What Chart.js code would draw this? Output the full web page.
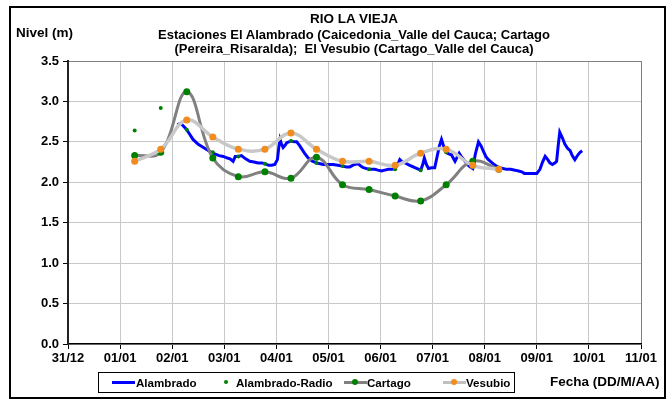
<!DOCTYPE html>
<html>
<head>
<meta charset="utf-8">
<script src="https://cdn.jsdelivr.net/npm/chart.js@4.4.0/dist/chart.umd.min.js"></script>
<style>
  body { margin: 0; background: #fff; font-family: "Liberation Sans", Arial, sans-serif; }
  #wrap { position: relative; width: 668px; height: 401px; overflow: hidden; background: #fff; }
  #frame { position: absolute; left: 9px; top: 6px; width: 657px; height: 393px; border: 2px solid #000; box-sizing: border-box; }
  canvas { position: absolute; left: 0; top: 0; }
  .txt { position: absolute; font-weight: bold; color: #000; white-space: nowrap; line-height: 14px; }
  .center { text-align: center; left: 54px; width: 600px; }
  #legend { position: absolute; left: 98px; top: 372px; width: 417px; height: 21px; border: 1px solid #000; box-sizing: border-box; }
  .sw { position: absolute; height: 3px; top: 8px; }
  .dot { position: absolute; border-radius: 50%; }
  .lt { position: absolute; top: 3px; font-size: 11.6px; font-weight: bold; line-height: 14px; }
</style>
</head>
<body>
<div id="wrap">
  <div id="frame"></div>
  <canvas id="chart" width="668" height="401"></canvas>
  <div class="txt center" style="top: 12px; font-size: 13.5px;">RIO LA VIEJA</div>
  <div class="txt center" style="top: 28px; font-size: 13px;">Estaciones El Alambrado (Caicedonia_Valle del Cauca; Cartago</div>
  <div class="txt center" style="top: 42px; font-size: 13px;">(Pereira_Risaralda);&nbsp; El Vesubio (Cartago_Valle del Cauca)</div>
  <div class="txt" style="left: 16px; top: 26px; font-size: 13.5px;">Nivel (m)</div>
  <div class="txt" style="left: 550px; top: 375px; font-size: 13.5px;">Fecha (DD/M/AA)</div>
  <div id="legend">
    <div class="sw" style="left: 13px; width: 23px; background: #0000ff;"></div>
    <div class="lt" style="left: 37px;">Alambrado</div>
    <div class="dot" style="left: 125px; top: 7px; width: 4px; height: 4px; background: #008000;"></div>
    <div class="lt" style="left: 137px;">Alambrado-Radio</div>
    <div class="sw" style="left: 245px; width: 23px; background: #808080;"></div>
    <div class="dot" style="left: 253px; top: 6px; width: 6px; height: 6px; background: #008000;"></div>
    <div class="lt" style="left: 268px;">Cartago</div>
    <div class="sw" style="left: 344px; width: 23px; background: #c0c0c0;"></div>
    <div class="dot" style="left: 352px; top: 6px; width: 6px; height: 6px; background: #f28c1e;"></div>
    <div class="lt" style="left: 367px;">Vesubio</div>
  </div>
</div>
<script>
// eje x en meses desde 31/12
const monthLabels = ['31/12', '01/01', '02/01', '03/01', '04/01', '05/01', '06/01', '07/01', '08/01', '09/01', '10/01', '11/01'];

// fechas quincenales (Cartago, Vesubio, Alambrado-Radio)
const fechasQ = [1.28, 1.78, 2.28, 2.78, 3.27, 3.78, 4.28, 4.77, 5.27, 5.78, 6.28, 6.77, 7.26, 7.77, 8.27];
const cartago = [2.33, 2.37, 3.12, 2.30, 2.07, 2.13, 2.05, 2.31, 1.97, 1.91, 1.83, 1.77, 1.97, 2.26, 2.16];
const vesubio = [2.26, 2.41, 2.77, 2.56, 2.41, 2.41, 2.61, 2.41, 2.26, 2.26, 2.21, 2.36, 2.41, 2.21, 2.16];
const radio = [2.64, 2.92, 2.65, 2.37, 2.32, 2.23, 2.51, 2.24, 2.20, 2.16, 2.16, 2.15, 2.37, 2.19, 2.18];

// Alambrado (serie continua)
const alambradoFechas = [
  2.10, 2.16, 2.21, 2.28, 2.33, 2.40, 2.50, 2.60, 2.70, 2.78, 2.90, 2.98, 3.06, 3.11, 3.17, 3.21,
  3.27, 3.33, 3.41, 3.49, 3.57, 3.65, 3.72, 3.78, 3.85, 3.91, 3.97, 4.02, 4.05, 4.07, 4.10, 4.13,
  4.17, 4.20, 4.28, 4.35, 4.39, 4.44, 4.49, 4.55, 4.61, 4.69, 4.77, 4.84, 4.90, 5.00, 5.09, 5.18,
  5.27, 5.35, 5.41, 5.50, 5.57, 5.62, 5.67, 5.78, 5.89, 5.95, 6.02, 6.08, 6.15, 6.22, 6.28, 6.33,
  6.37, 6.42, 6.47, 6.56, 6.66, 6.77, 6.81, 6.84, 6.88, 6.92, 6.98, 7.04, 7.08, 7.13, 7.17, 7.21,
  7.26, 7.31, 7.36, 7.43, 7.51, 7.56, 7.62, 7.70, 7.77, 7.82, 7.88, 7.93, 7.97, 8.02, 8.07, 8.16,
  8.27, 8.35, 8.42, 8.50, 8.58, 8.65, 8.71, 8.76, 8.80, 8.90, 9.00, 9.06, 9.11, 9.16, 9.21, 9.25,
  9.30, 9.35, 9.38, 9.41, 9.44, 9.49, 9.54, 9.59, 9.64, 9.68, 9.73, 9.76, 9.79, 9.83, 9.87
];
const alambrado = [
  2.71, 2.73, 2.70, 2.65, 2.60, 2.53, 2.47, 2.43, 2.39, 2.36, 2.33, 2.32, 2.30, 2.29, 2.26, 2.32,
  2.32, 2.33, 2.29, 2.26, 2.25, 2.24, 2.24, 2.23, 2.21, 2.21, 2.22, 2.28, 2.45, 2.53, 2.47, 2.43,
  2.46, 2.49, 2.51, 2.50, 2.50, 2.46, 2.41, 2.35, 2.30, 2.26, 2.24, 2.23, 2.22, 2.22, 2.22, 2.21,
  2.20, 2.19, 2.19, 2.22, 2.23, 2.20, 2.18, 2.16, 2.16, 2.15, 2.14, 2.15, 2.16, 2.16, 2.17, 2.22,
  2.28, 2.25, 2.24, 2.21, 2.18, 2.15, 2.22, 2.30, 2.22, 2.17, 2.18, 2.18, 2.30, 2.45, 2.53, 2.45,
  2.37, 2.35, 2.34, 2.26, 2.36, 2.31, 2.26, 2.20, 2.17, 2.35, 2.50, 2.45, 2.39, 2.32, 2.28, 2.23,
  2.18, 2.17, 2.16, 2.16, 2.15, 2.14, 2.13, 2.11, 2.11, 2.11, 2.11, 2.16, 2.25, 2.32, 2.28, 2.24,
  2.22, 2.24, 2.26, 2.45, 2.62, 2.55, 2.47, 2.42, 2.39, 2.33, 2.28, 2.31, 2.34, 2.37, 2.39
];

const pts = (xs, ys) => xs.map((x, i) => ({ x: x, y: ys[i] }));

const tickFont = { family: '"Liberation Sans", Arial, sans-serif', size: 13, weight: 'bold' };

new Chart(document.getElementById('chart'), {
    type: 'line',
    data: {
        datasets: [
            {
                label: 'Alambrado',
                data: pts(alambradoFechas, alambrado),
                borderColor: '#0000ff',
                borderWidth: 3,
                pointRadius: 0,
                tension: 0,
                order: 4
            },
            {
                label: 'Alambrado-Radio',
                data: pts(fechasQ, radio),
                showLine: false,
                pointRadius: 2,
                pointBackgroundColor: '#008000',
                pointBorderWidth: 0,
                order: 3
            },
            {
                label: 'Cartago',
                data: pts(fechasQ, cartago),
                borderColor: '#808080',
                borderWidth: 3,
                tension: 0.4,
                pointRadius: 3.5,
                pointBackgroundColor: '#008000',
                pointBorderWidth: 0,
                order: 2
            },
            {
                label: 'Vesubio',
                data: pts(fechasQ, vesubio),
                borderColor: '#c8c8c8',
                borderWidth: 3.5,
                tension: 0.4,
                pointRadius: 3.5,
                pointBackgroundColor: '#f28c1e',
                pointBorderWidth: 0,
                order: 1
            }
        ]
    },
    options: {
        responsive: false,
        animation: false,
        devicePixelRatio: 1,
        layout: { padding: { left: 10, right: 27, top: 61, bottom: 37 } },
        plugins: { legend: { display: false }, tooltip: { enabled: false } },
        scales: {
            x: {
                type: 'linear',
                min: 0,
                max: 11,
                afterFit: (s) => { s.height = 20; },
                ticks: {
                    stepSize: 1,
                    autoSkip: false,
                    maxRotation: 0,
                    padding: 2,
                    color: '#000',
                    font: tickFont,
                    callback: (v) => monthLabels[v]
                },
                grid: {
                    color: (c) => c.tick && c.tick.value === 11 ? '#808080' : '#c8c8c8',
                    tickColor: '#000',
                    tickLength: 5
                },
                border: { color: '#000', width: 1.5 }
            },
            y: {
                min: 0,
                max: 3.5,
                afterFit: (s) => { s.width = 58; },
                ticks: {
                    stepSize: 0.5,
                    padding: 4,
                    color: '#000',
                    font: tickFont,
                    callback: (v) => v.toFixed(1)
                },
                grid: {
                    color: (c) => c.tick && c.tick.value === 3.5 ? '#808080' : '#c8c8c8',
                    tickColor: '#000',
                    tickLength: 5
                },
                border: { color: '#222', width: 2 }
            }
        }
    }
});
</script>
</body>
</html>
